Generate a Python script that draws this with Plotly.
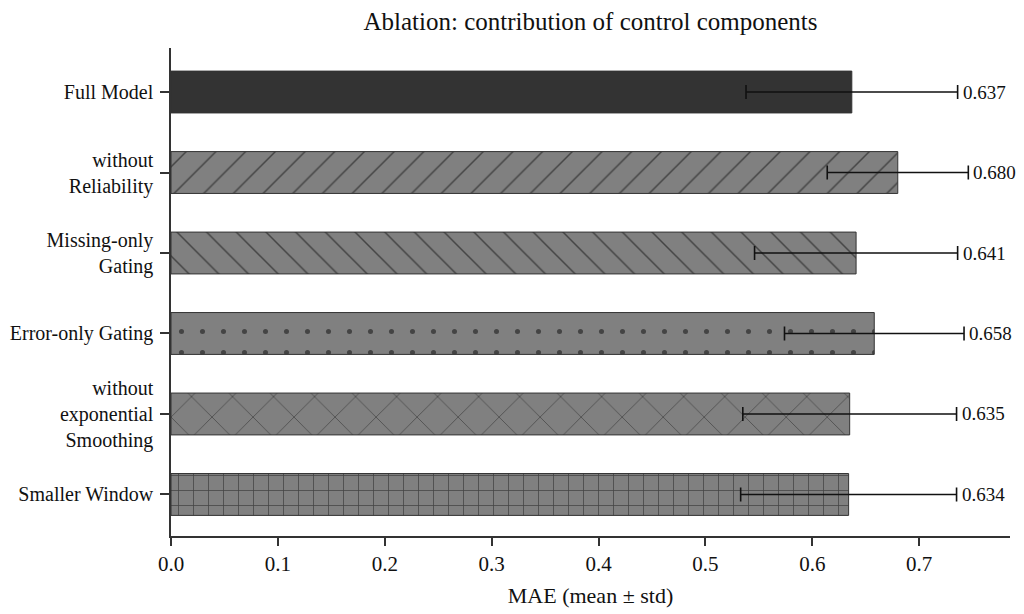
import plotly.graph_objects as go

categories = ["Full Model", "without<br>Reliability", "Missing-only<br>Gating",
              "Error-only Gating", "without<br>exponential<br>Smoothing", "Smaller Window"]
mae_mean = [0.637, 0.680, 0.641, 0.658, 0.635, 0.634]
mae_std = [0.099, 0.066, 0.095, 0.084, 0.100, 0.101]
value_labels = ["0.637", "0.680", "0.641", "0.658", "0.635", "0.634"]

bar_colors = ["#333333", "#808080", "#808080", "#808080", "#808080", "#808080"]
pattern_shapes = ["", "/", "\\", ".", "x", "+"]
pattern_sizes = [10, 21, 21, 21, 29, 15]
pattern_solidity = [0.1, 0.07, 0.07, 0.045, 0.05, 0.1]

SERIF = "Liberation Serif"

# page body has an 8px margin, so the figure is sized to fit the 1024x614 window
W, H = 1016, 606
L, R, T, B = 163, 14, 40, 78

fig = go.Figure()
fig.add_trace(go.Bar(
    x=mae_mean, y=categories, orientation="h", width=0.52,
    marker=dict(color=bar_colors,
                line=dict(color="#333333", width=1),
                pattern=dict(shape=pattern_shapes, size=pattern_sizes,
                             solidity=pattern_solidity, fgcolor="#262626",
                             fgopacity=1, fillmode="overlay")),
    error_x=dict(type="data", array=mae_std, color="#111111", thickness=1.6, width=7),
    showlegend=False,
))

for cat, m, s, lab in zip(categories, mae_mean, mae_std, value_labels):
    fig.add_annotation(x=m + s, y=cat, text=lab, showarrow=False,
                       xanchor="left", yanchor="middle", xshift=3,
                       font=dict(family=SERIF, size=19, color="#111111"))

fig.update_layout(
    width=W, height=H,
    margin=dict(l=L, r=R, t=T, b=B),
    paper_bgcolor="white", plot_bgcolor="white",
    title=dict(text="Ablation: contribution of control components",
               x=(L + W - R) / 2 / W, xanchor="center", y=1 - 13 / H, yanchor="middle",
               font=dict(family=SERIF, size=25, color="#111111")),
    font=dict(family=SERIF, color="#111111"),
)
fig.update_xaxes(
    range=[0, 0.785], tickvals=[0, 0.1, 0.2, 0.3, 0.4, 0.5, 0.6, 0.7],
    ticktext=["0.0", "0.1", "0.2", "0.3", "0.4", "0.5", "0.6", "0.7"],
    showgrid=False, zeroline=False, showline=True, linecolor="#333333", linewidth=1.5,
    ticks="outside", ticklen=8, tickwidth=1.5, tickcolor="#333333",
    tickfont=dict(family=SERIF, size=21), automargin=False,
    title=dict(text="MAE (mean ± std)", font=dict(family=SERIF, size=22), standoff=13),
)
fig.update_yaxes(
    range=[5.516, -0.547], type="category", automargin=False,
    showgrid=False, zeroline=False, showline=True, linecolor="#333333", linewidth=1.5,
    ticks="outside", ticklen=9, tickwidth=1.5, tickcolor="#333333", ticklabelstandoff=3,
    tickfont=dict(family=SERIF, size=20),
)

fig.write_html("out.html")
